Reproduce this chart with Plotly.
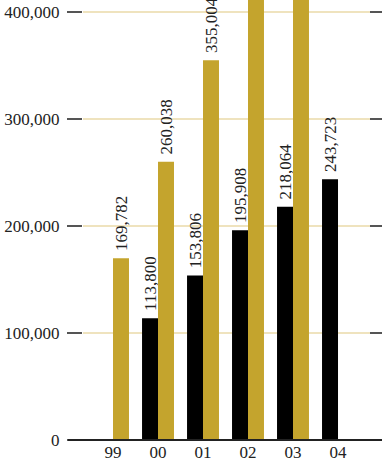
import plotly.graph_objects as go

years = ["99", "00", "01", "02", "03", "04"]
black_vals = [None, 113800, 153806, 195908, 218064, 243723]
gold_vals = [169782, 260038, 355004, 450000, 545000, None]
y_ticks = [0, 100000, 200000, 300000, 400000]
y_tick_labels = ["0", "100,000", "200,000", "300,000", "400,000"]

FONT = "serif"
GOLD = "#C4A42D"
TEXT = "#222222"
TICK = "#555555"
GRID = "#EFE3BE"
Y_MAX = 411200

def fmt(v):
    # labels of bars running past the top of the plot are not visible
    if v is None or v > Y_MAX:
        return ""
    return "\u00a0" + f"{v:,}"

fig = go.Figure()
for vals, col in [(black_vals, "#000000"), (gold_vals, GOLD)]:
    fig.add_trace(go.Bar(
        x=years, y=vals, marker_color=col, marker_line_width=0,
        text=[fmt(v) for v in vals], textposition="outside", textangle=-90,
        textfont=dict(family=FONT, size=17, color=TEXT), constraintext="none",
        cliponaxis=True, showlegend=False, hoverinfo="skip"))

W, H = 382, 465
L, R, T, B = 83, 12, 0, 25
plot_w = W - L - R

fig.update_layout(
    width=W, height=H, margin=dict(l=L, r=R, t=T, b=B),
    paper_bgcolor="white", plot_bgcolor="white",
    barmode="group", bargap=0.29, bargroupgap=0,
    font=dict(family=FONT, size=17, color=TEXT),
    xaxis=dict(type="category", range=[-0.667, 5.711], showgrid=False,
               zeroline=False, showline=False, ticks="",
               tickfont=dict(family=FONT, size=17, color=TEXT)),
    yaxis=dict(range=[0, Y_MAX], tickvals=y_ticks, ticktext=y_tick_labels,
               showgrid=True, gridcolor=GRID, gridwidth=1.5,
               zeroline=False, showline=False,
               ticks="outside", ticklen=15, tickwidth=2, tickcolor=TICK,
               ticklabelstandoff=4,
               tickfont=dict(family=FONT, size=17, color=TEXT)),
)

# right-side tick marks
for v in y_ticks[1:]:
    fig.add_shape(type="line", xref="paper", yref="y",
                  x0=1, x1=1 + 14 / plot_w, y0=v, y1=v,
                  line=dict(color=TICK, width=2), layer="above")
# baseline extending under left tick area to right edge
fig.add_shape(type="line", xref="paper", yref="paper",
              x0=-15 / plot_w, x1=1 + 14 / plot_w, y0=0, y1=0,
              line=dict(color=TEXT, width=2), layer="above")

fig.write_html("out.html")
